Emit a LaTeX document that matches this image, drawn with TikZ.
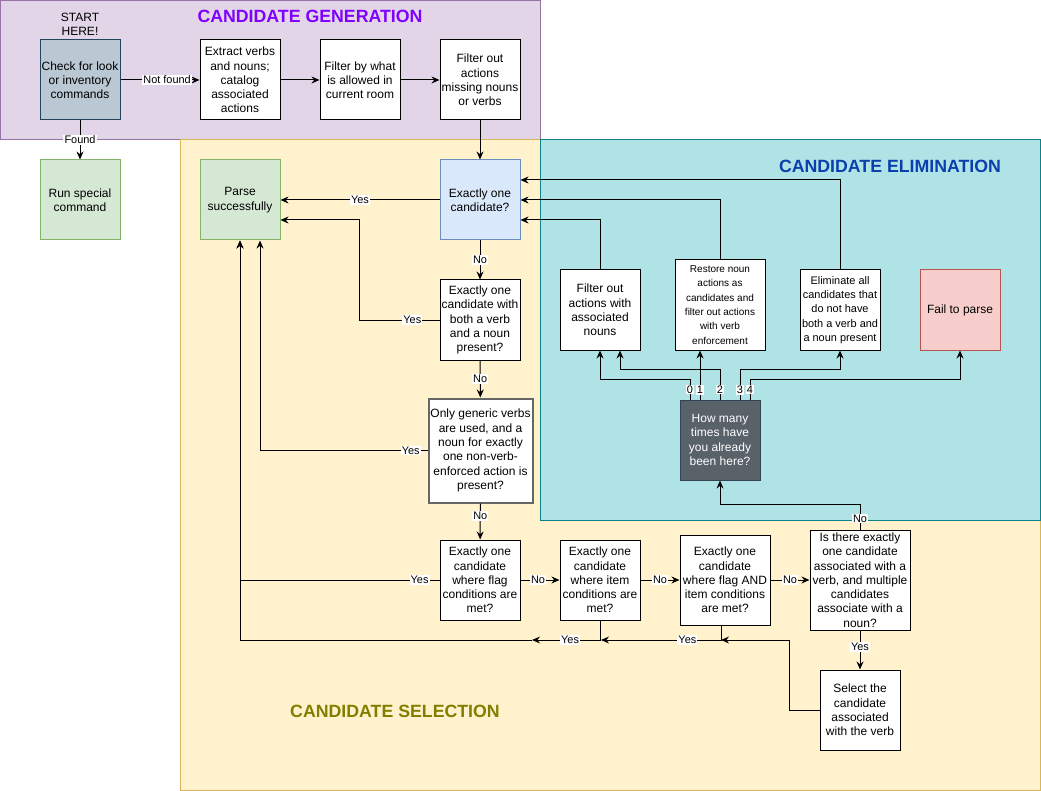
\documentclass[tikz,border=0pt]{standalone}
\usepackage{fontspec}
\setmainfont{Liberation Sans}
\usetikzlibrary{arrows.meta}
\tikzset{>={Stealth[length=6pt,width=5.2pt,inset=2pt]}}
\definecolor{genfill}{HTML}{E1D5E7}
\definecolor{genline}{HTML}{9673A6}
\definecolor{selfill}{HTML}{FFF2CC}
\definecolor{selline}{HTML}{D6B656}
\definecolor{elimfill}{HTML}{B0E3E6}
\definecolor{elimline}{HTML}{0E8088}
\definecolor{gencol}{HTML}{7F00FF}
\definecolor{elimcol}{HTML}{0A3FAD}
\definecolor{selcol}{HTML}{808000}
\definecolor{checkfill}{HTML}{BAC8D3}
\definecolor{checkline}{HTML}{23445D}
\definecolor{okfill}{HTML}{D5E8D4}
\definecolor{okline}{HTML}{82B366}
\definecolor{askfill}{HTML}{DAE8FC}
\definecolor{askline}{HTML}{6C8EBF}
\definecolor{failfill}{HTML}{F8CECC}
\definecolor{failline}{HTML}{B85450}
\definecolor{countfill}{HTML}{596169}
\definecolor{countline}{HTML}{314354}
\definecolor{genericline}{HTML}{666666}
\newcommand*{\procfont}{\fontsize{9}{10.7}\selectfont}
\newcommand*{\procsmall}{\fontsize{8.2}{10.7}\selectfont}
\newcommand*{\proctiny}{\fontsize{7.5}{10.7}\selectfont}
\newcommand*{\lblfont}{\fontsize{8.2}{9}\selectfont}
\newcommand*{\ttlfont}{\fontsize{13.3}{15}\selectfont\bfseries}
\tikzset{
    proc/.style={draw, fill=white, align=center, inner sep=1pt, font=\procfont,
        minimum width=60pt, minimum height=60pt},
    lbl/.style={fill=white, inner sep=0.8pt, font=\lblfont},
    num/.style={fill=white, inner sep=0.8pt, font=\lblfont},
    grouptitle/.style={font=\ttlfont, inner sep=0pt}
}

\begin{document}
\begin{tikzpicture}[x=0.75pt, y=-0.75pt, line width=0.75pt]
    \useasboundingbox(0, 0)rectangle(1041, 791);
    % groups
    \filldraw[fill=genfill, draw=genline](0.5, 0.5)rectangle(540, 140);
    \filldraw[fill=selfill, draw=selline](180, 140)rectangle(1040.5, 790.5);
    \filldraw[fill=elimfill, draw=elimline](540, 140)rectangle(1040.5, 520);
    \node[grouptitle, text=gencol](gentitle) at(310, 16){CANDIDATE GENERATION};
    \node[grouptitle, text=elimcol](elimtitle) at(890, 166){CANDIDATE ELIMINATION};
    \node[grouptitle, text=selcol](seltitle) at(395, 711){CANDIDATE SELECTION};
    % generation
    \node[align=center, font=\procfont](start) at(80, 24){START\\HERE!};
    \node[proc, fill=checkfill, draw=checkline](check) at(80, 80){Check for look\\or inventory\\commands};
    \node[proc](extract) at(240, 80){Extract verbs\\and nouns;\\catalog\\associated\\actions};
    \node[proc](room) at(360, 80){Filter by what\\is allowed in\\current room};
    \node[proc](missing) at(480, 80){Filter out\\actions\\missing nouns\\or verbs};
    \node[proc, fill=okfill, draw=okline](special) at(80, 200){Run special\\command};
    % selection
    \node[proc, fill=okfill, draw=okline](parse) at(240, 200){Parse\\successfully};
    \node[proc, fill=askfill, draw=askline](exone) at(480, 200){Exactly one\\candidate?};
    \node[proc](both) at(480, 320){Exactly one\\candidate with\\both a verb\\and a noun\\present?};
    \node[proc, draw=genericline, line width=1.5pt, minimum width=78pt, minimum height=78pt](generic) at(480.5, 450.5){Only generic verbs\\are used, and a\\noun for exactly\\one non-verb-\\enforced action is\\present?};
    \node[proc](flag) at(480, 580){Exactly one\\candidate\\where flag\\conditions are\\met?};
    \node[proc](item) at(600, 580){Exactly one\\candidate\\where item\\conditions are\\met?};
    \node[proc, minimum width=67.5pt, minimum height=67.5pt](flagitem) at(725, 580){Exactly one\\candidate\\where flag AND\\item conditions\\are met?};
    \node[proc, minimum width=75pt, minimum height=75pt, inner sep=0pt](verbnoun) at(860, 580){Is there exactly\\one candidate\\associated with a\\verb, and multiple\\candidates\\associate with a\\noun?};
    \node[proc](select) at(860, 710){Select the\\candidate\\associated\\with the verb};
    % elimination
    \node[proc](nounsout) at(600, 310){Filter out\\actions with\\associated\\nouns};
    \node[proc, font=\proctiny, minimum width=67.5pt, minimum height=67.5pt](restore) at(720, 305){Restore noun\\actions as\\candidates and\\filter out actions\\with verb\\enforcement};
    \node[proc, font=\procsmall](elim) at(840, 310){Eliminate all\\candidates that\\do not have\\both a verb and\\a noun present};
    \node[proc, fill=failfill, draw=failline](fail) at(960, 310){Fail to parse};
    \node[proc, fill=countfill, draw=countline, text=white](count) at(720, 440){How many\\times have\\you already\\been here?};
    % generation edges
    \draw[->](check)--node[lbl, pos=0.59]{Not found}(extract);
    \draw[->](extract)--(room);
    \draw[->](room)--(missing);
    \draw[->](missing)--(exone);
    \draw[->](check)--node[lbl]{Found}(special);
    % selection edges
    \draw[->](exone)--node[lbl]{Yes}(parse);
    \draw[->](exone)--node[lbl]{No}(both);
    \draw[->](both.west)--node[lbl, pos=0.34]{Yes}++(-80, 0)|-([yshift=-15pt]parse.east);
    \draw[->](both)--node[lbl]{No}(generic);
    \draw[->](generic.west)-|node[lbl, pos=0.05]{Yes}([xshift=15pt]parse.south);
    \draw[->](generic)--node[lbl, pos=0.35]{No}(flag);
    \draw[->](flag.west)-|node[lbl, pos=0.05]{Yes}(parse.south);
    \draw[->](flag)--node[lbl, pos=0.45]{No}(item);
    \draw[->](item)--node[lbl]{No}(flagitem);
    \draw[->](flagitem)--node[lbl]{No}(verbnoun);
    \draw[->](verbnoun)--node[lbl, pos=0.43]{Yes}(select);
    \coordinate(fiJ) at(721, 640);
    \coordinate(itJ) at(601, 640);
    \coordinate(flJ) at(532, 640);
    \draw[->](select.west)--++(-30, 0)|-(fiJ);
    \draw[->](flagitem.south -| fiJ)|-node[lbl, pos=0.64]{Yes}(itJ);
    \draw[->](item.south)|-node[lbl, pos=0.72]{Yes}(flJ);
    \draw[->](flJ)-|(parse.south);
    \draw[->](verbnoun.north)--node[lbl, pos=0.44]{No}++(0, -25)-|(count.south);
    % elimination edges
    \draw[->]([xshift=-22.5pt]count.north)--node[num]{0}++(0, -20)-|(nounsout.south);
    \draw[->]([xshift=-15pt]count.north)--node[num, pos=0.2]{1}([xshift=-15pt]restore.south);
    \draw[->](count.north)--node[num, pos=0.33]{2}++(0, -30)-|([xshift=15pt]nounsout.south);
    \draw[->]([xshift=15pt]count.north)--node[num, pos=0.33]{3}++(0, -30)-|(elim.south);
    \draw[->]([xshift=22.5pt]count.north)--node[num]{4}++(0, -20)-|(fail.south);
    \draw[->](nounsout.north)|-([yshift=-15pt]exone.east);
    \draw[->](restore.north)|-(exone.east);
    \draw[->](elim.north)|-([yshift=15pt]exone.east);
\end{tikzpicture}
\end{document}
